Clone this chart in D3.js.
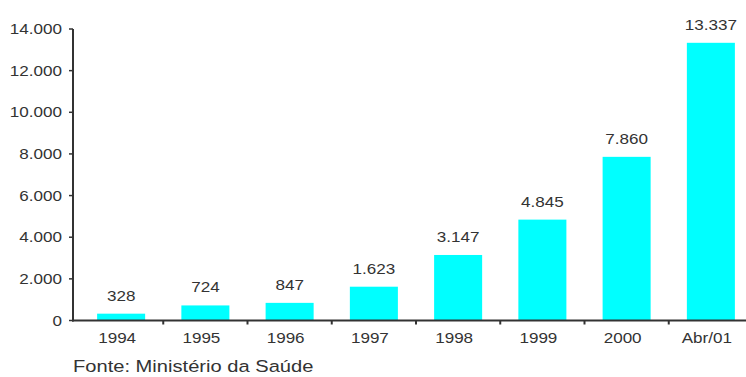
<!DOCTYPE html>
<html>
<head>
<meta charset="utf-8">
<script src="https://cdn.jsdelivr.net/npm/d3@7"></script>
<style>
  body { margin: 0; background: #fff; }
  svg { display: block; }
  text { font-family: "Liberation Sans", Arial, sans-serif; fill: #333; }
</style>
</head>
<body>
<div id="chart"></div>
<script>
// Datos del gráfico
const categories = ['1994', '1995', '1996', '1997', '1998', '1999', '2000', 'Abr/01'];
const values = [328, 724, 847, 1623, 3147, 4845, 7860, 13337];
const valueLabels = ['328', '724', '847', '1.623', '3.147', '4.845', '7.860', '13.337'];
const yTicks = [0, 2000, 4000, 6000, 8000, 10000, 12000, 14000];
const source = 'Fonte: Ministério da Saúde';

const W = 746, H = 377;
const sx = 1.22; // el original está estirado horizontalmente

const svg = d3.select('#chart').append('svg')
    .attr('width', W)
    .attr('height', H);

const x = d3.scaleBand()
    .domain(categories)
    .range([79, 753])
    .paddingInner(0.43)
    .paddingOuter(0.215);

const y = d3.scaleLinear()
    .domain([0, 14000])
    .range([320.5, 29]);

const fmt = d => d3.format(',')(d).replace(/,/g, '.');

// Texto estirado
function stretchText(g, tx, ty, str, size, anchor) {
    return g.append('text')
        .attr('transform', `translate(${tx},${ty}) scale(${sx},1)`)
        .attr('text-anchor', anchor)
        .attr('font-size', size + 'px')
        .text(str);
}

// Barras
svg.selectAll('.bar')
    .data(values)
    .enter()
    .append('rect')
    .attr('class', 'bar')
    .attr('x', (d, i) => x(categories[i]))
    .attr('width', x.bandwidth())
    .attr('y', d => y(d))
    .attr('height', d => y(0) - y(d))
    .attr('fill', '#00ffff');

// Etiquetas de valor
values.forEach((v, i) => {
    stretchText(svg, x(categories[i]) + x.bandwidth() / 2, y(v) - 13, valueLabels[i], 14, 'middle');
});

// Eje Y
const yAxis = svg.append('g');
yAxis.append('line')
    .attr('x1', 73).attr('x2', 73)
    .attr('y1', y(14000)).attr('y2', y(0) + 1)
    .attr('stroke', '#333').attr('stroke-width', 2);
yTicks.forEach(t => {
    yAxis.append('line')
        .attr('x1', 69).attr('x2', 73)
        .attr('y1', y(t)).attr('y2', y(t))
        .attr('stroke', '#333').attr('stroke-width', 1.5);
    stretchText(yAxis, 62, y(t) + 5, fmt(t), 14, 'end');
});

// Eje X
const xAxis = svg.append('g');
xAxis.append('line')
    .attr('x1', 72).attr('x2', W)
    .attr('y1', y(0)).attr('y2', y(0))
    .attr('stroke', '#333').attr('stroke-width', 2);
categories.slice(1).forEach(c => {
    const bx = x(c) - x.step() * x.paddingInner() / 2;
    xAxis.append('line')
        .attr('x1', bx).attr('x2', bx)
        .attr('y1', y(0)).attr('y2', y(0) + 4)
        .attr('stroke', '#333').attr('stroke-width', 2);
});
categories.forEach(c => {
    stretchText(xAxis, x(c) + x.bandwidth() / 2 - 4, 343, c, 14, 'middle');
});

// Fuente
stretchText(svg, 73, 372, source, 16.5, 'start');
</script>
</body>
</html>
